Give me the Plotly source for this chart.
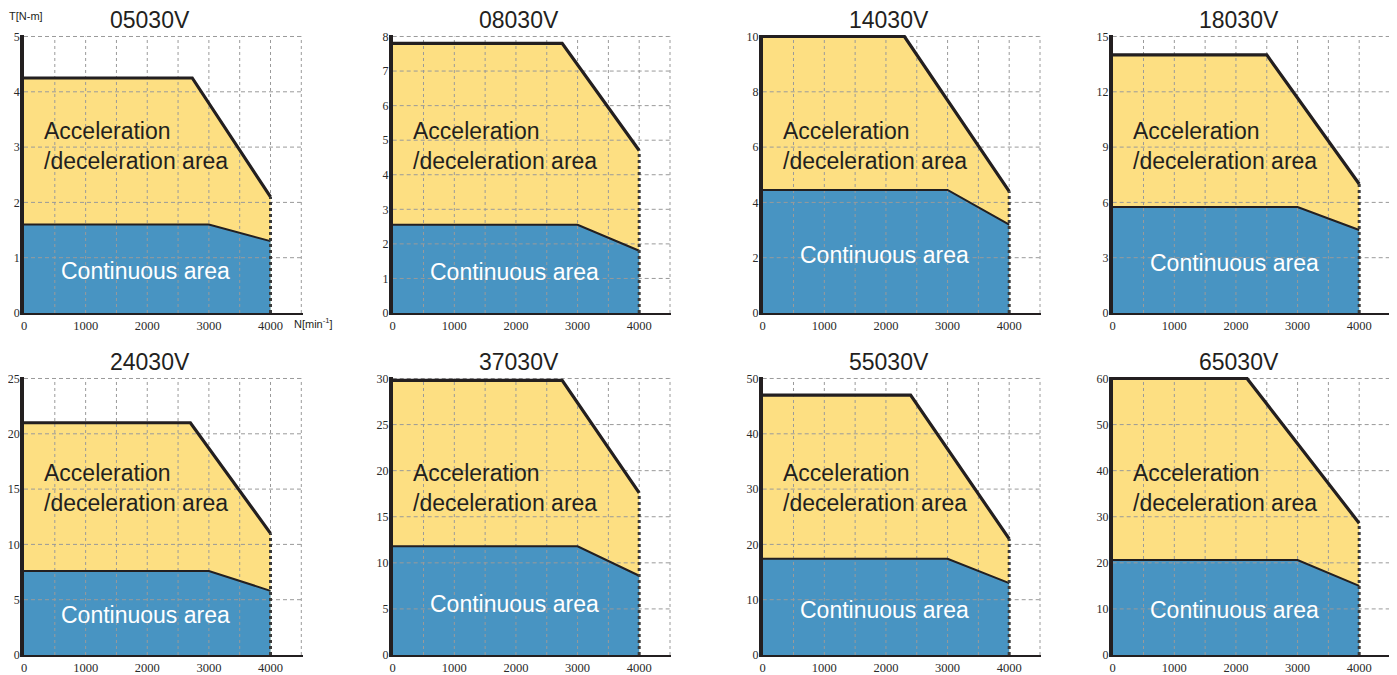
"""
Servo motor torque-speed characteristics (8 models)
"""
import plotly.graph_objects as go

# ---- data ----
models = ['05030V', '08030V', '14030V', '18030V', '24030V', '37030V', '55030V', '65030V']
torque_axis_max = [5, 8, 10, 15, 25, 30, 50, 60]
torque_axis_step = [1, 1, 2, 3, 5, 5, 10, 10]

# acceleration/deceleration area: peak torque, speed where it starts falling, torque at max speed
accel_peak = [4.25, 7.8, 10, 14, 21, 29.8, 47, 60]
accel_knee = [2730, 2750, 2300, 2500, 2700, 2750, 2400, 2180]
accel_end = [2.1, 4.7, 4.4, 7.0, 11, 17.6, 21, 28.6]

# continuous area: rated torque, rated speed, torque at max speed
cont_rated = [1.6, 2.55, 4.45, 5.75, 7.6, 11.8, 17.4, 20.6]
cont_knee = [3000] * 8
cont_end = [1.3, 1.8, 3.2, 4.5, 5.8, 8.6, 13, 15]

speed_max = 4000
speed_axis_max = 4500
speed_grid = [500, 1000, 1500, 2000, 2500, 3000, 3500, 4000, 4500]
speed_labels = [0, 1000, 2000, 3000, 4000]

# ---- style ----
W, H = 1397, 675
OFF = 8                                      # page body margin
YELLOW = '#fddf82'
BLUE = '#4894c2'
GRID = '#9a9a9a'
INK = '#231f20'
TICK_FONT = dict(family='Liberation Serif, Times New Roman, serif', size=12.5, color='#2a2a2a')
YTICK_FONT = dict(family='Liberation Serif, Times New Roman, serif', size=12, color='#2a2a2a')
col_left = [24, 392.7, 762.7, 1112.7]       # px of x=0 for each column
row_bottom = [313, 655]                      # px of y=0 for each row
px_per_rpm = 246.5 / 4000
px_height = 276.5
x_hi = 4520
y_pad = 1.005

fig = go.Figure()
layout = {}
annotations = []

for i, name in enumerate(models):
    r, c = divmod(i, 4)
    suf = '' if i == 0 else str(i + 1)
    xa, ya = 'x' + suf, 'y' + suf
    ymax = torque_axis_max[i]

    # filled areas
    fig.add_trace(go.Scatter(
        x=[0, 0, accel_knee[i], speed_max, speed_max],
        y=[0, accel_peak[i], accel_peak[i], accel_end[i], 0],
        fill='toself', fillcolor=YELLOW, mode='lines',
        line=dict(width=0), xaxis=xa, yaxis=ya, hoverinfo='skip'
    ))
    fig.add_trace(go.Scatter(
        x=[0, 0, cont_knee[i], speed_max, speed_max],
        y=[0, cont_rated[i], cont_rated[i], cont_end[i], 0],
        fill='toself', fillcolor=BLUE, mode='lines',
        line=dict(width=0), xaxis=xa, yaxis=ya, hoverinfo='skip'
    ))

    # grid drawn above the fills
    gx, gy = [], []
    for s in speed_grid:
        gx += [s, s, None]
        gy += [0, ymax, None]
    fig.add_trace(go.Scatter(x=gx, y=gy, mode='lines', xaxis=xa, yaxis=ya,
                             line=dict(color=GRID, width=1, dash='dot'), hoverinfo='skip'))
    hx, hy = [], []
    t = torque_axis_step[i]
    while t <= ymax + 1e-9:
        hx += [0, speed_axis_max, None]
        hy += [t, t, None]
        t += torque_axis_step[i]
    fig.add_trace(go.Scatter(x=hx, y=hy, mode='lines', xaxis=xa, yaxis=ya,
                             line=dict(color=GRID, width=1, dash='4px,3px'), hoverinfo='skip'))

    # outlines
    fig.add_trace(go.Scatter(
        x=[0, cont_knee[i], speed_max], y=[cont_rated[i], cont_rated[i], cont_end[i]],
        mode='lines', line=dict(color=INK, width=2), xaxis=xa, yaxis=ya, hoverinfo='skip'
    ))
    fig.add_trace(go.Scatter(
        x=[0, accel_knee[i], speed_max], y=[accel_peak[i], accel_peak[i], accel_end[i]],
        mode='lines', line=dict(color=INK, width=3.2), xaxis=xa, yaxis=ya, hoverinfo='skip'
    ))
    fig.add_trace(go.Scatter(
        x=[speed_max, speed_max], y=[0, accel_end[i]],
        mode='lines', line=dict(color='#3a3a3a', width=3, dash='dot'),
        xaxis=xa, yaxis=ya, hoverinfo='skip'
    ))

    # axes
    x0 = col_left[c] - OFF
    x1 = x0 + x_hi * px_per_rpm
    yb = row_bottom[r] - OFF
    yt = yb - px_height * y_pad
    layout['xaxis' + suf] = dict(
        domain=[x0 / W, x1 / W], range=[0, x_hi], anchor=ya,
        tickvals=speed_labels, automargin=False,
        showgrid=False, zeroline=False, showline=True, linecolor=INK, linewidth=2,
        ticks='', tickfont=TICK_FONT, fixedrange=True
    )
    layout['yaxis' + suf] = dict(
        domain=[1 - yb / H, 1 - yt / H], range=[0, ymax * y_pad], anchor=xa,
        tickmode='linear', tick0=0, dtick=torque_axis_step[i], automargin=False,
        showgrid=False, zeroline=False, showline=True, linecolor=INK, linewidth=3.5,
        ticks='', tickfont=YTICK_FONT, ticklabelstandoff=-2, fixedrange=True
    )

    # texts
    annotations.append(dict(
        text=name, xref=xa, yref=ya + ' domain', x=2050, y=1, yshift=15,
        xanchor='center', yanchor='middle', showarrow=False,
        font=dict(family='Liberation Sans', size=23, color=INK)
    ))
    annotations.append(dict(
        text='Acceleration<br>/deceleration area', xref=xa, yref=ya + ' domain',
        x=290, y=0.600, xanchor='left', yanchor='middle', align='left', showarrow=False,
        font=dict(family='Liberation Sans', size=23, color=INK)
    ))
    annotations.append(dict(
        text='Continuous area', xref=xa, yref=ya, x=1970, y=cont_rated[i] * 0.47,
        xanchor='center', yanchor='middle', showarrow=False,
        font=dict(family='Liberation Sans', size=23, color='white')
    ))

annotations.append(dict(
    text='T[N-m]', xref='paper', yref='paper', x=(26 - OFF) / W, y=1 - (16 - OFF) / H,
    xanchor='center', yanchor='middle', showarrow=False,
    font=dict(family='Liberation Sans', size=11, color=INK)
))
annotations.append(dict(
    text='N[min<sup>-1</sup>]', xref='paper', yref='paper', x=(313 - OFF) / W,
    y=1 - (323 - OFF) / H,
    xanchor='center', yanchor='middle', showarrow=False,
    font=dict(family='Liberation Sans', size=11, color=INK)
))

fig.update_layout(
    width=W, height=H,
    margin=dict(l=0, r=0, t=0, b=0, autoexpand=False),
    paper_bgcolor='white', plot_bgcolor='white',
    showlegend=False,
    annotations=annotations,
    **layout
)

fig.write_html("out.html")
